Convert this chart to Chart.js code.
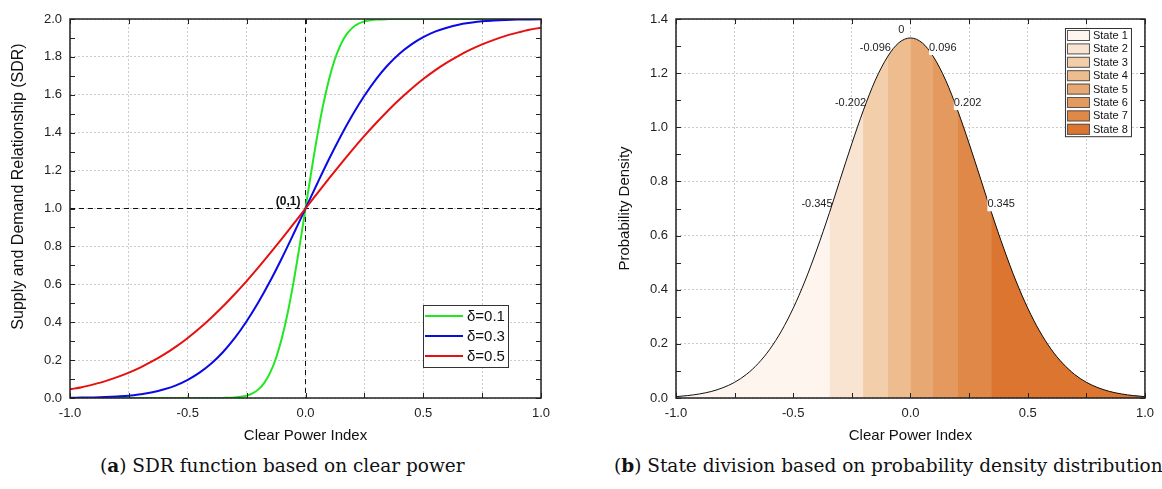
<!DOCTYPE html>
<html lang="en">
<head>
<meta charset="UTF-8">
<title>SDR function and state division</title>
<script src="https://cdn.jsdelivr.net/npm/chart.js"></script>
<style>
    body {
        margin: 0;
        width: 1162px;
        height: 489px;
        overflow: hidden;
        position: relative;
        background: #fff;
        font-family: "Liberation Sans", Arial, sans-serif;
    }
    .panel { position: absolute; top: 0; }
    #left { left: 0; }
    #right { left: 590px; }
    .caption {
        position: absolute;
        top: 454px;
        font-family: "DejaVu Serif", "Liberation Serif", serif;
        font-size: 18.5px;
        line-height: 24px;
        color: #111;
        white-space: nowrap;
    }
</style>
</head>
<body>
<div class="panel" id="left"><canvas id="sdr" width="580" height="450"></canvas></div>
<div class="panel" id="right"><canvas id="pdf" width="572" height="450"></canvas></div>
<div class="caption" style="left:100px">(<b>a</b>) SDR function based on clear power</div>
<div class="caption" style="left:614px">(<b>b</b>) State division based on probability density distribution</div>

<script>
    // ---- (a) SDR curves ----
    const sdrX = [-1, -0.95, -0.9, -0.85, -0.8, -0.75, -0.7, -0.65, -0.6, -0.55, -0.5, -0.45, -0.4, -0.35, -0.3, -0.25, -0.2, -0.15, -0.1, -0.05,
        0, 0.05, 0.1, 0.15, 0.2, 0.25, 0.3, 0.35, 0.4, 0.45, 0.5, 0.55, 0.6, 0.65, 0.7, 0.75, 0.8, 0.85, 0.9, 0.95, 1];
    const sdrRed = [0.046, 0.057, 0.072, 0.089, 0.110, 0.134, 0.162, 0.194, 0.230, 0.271, 0.317, 0.368, 0.424, 0.484, 0.549, 0.617, 0.689, 0.764, 0.841, 0.920,
        1.000, 1.080, 1.159, 1.236, 1.311, 1.383, 1.451, 1.516, 1.576, 1.632, 1.683, 1.729, 1.770, 1.806, 1.838, 1.866, 1.890, 1.911, 1.928, 1.943, 1.954];
    const sdrBlue = [0.001, 0.002, 0.003, 0.005, 0.008, 0.012, 0.020, 0.030, 0.046, 0.067, 0.096, 0.134, 0.182, 0.243, 0.317, 0.405, 0.505, 0.617, 0.739, 0.868,
        1.000, 1.132, 1.261, 1.383, 1.495, 1.595, 1.683, 1.757, 1.818, 1.866, 1.904, 1.933, 1.954, 1.970, 1.980, 1.988, 1.992, 1.995, 1.997, 1.998, 1.999];
    const greenX = [-1, -0.4, -0.35, -0.3, -0.275, -0.25, -0.225, -0.2, -0.175, -0.15, -0.125, -0.1, -0.075, -0.05, -0.025,
        0, 0.025, 0.05, 0.075, 0.1, 0.125, 0.15, 0.175, 0.2, 0.225, 0.25, 0.275, 0.3, 0.35, 0.4, 1];
    const sdrGreen = [0, 0, 0.0005, 0.0027, 0.006, 0.0124, 0.0244, 0.0455, 0.0801, 0.1336, 0.2113, 0.3174, 0.4533, 0.617, 0.8026,
        1, 1.1974, 1.383, 1.5467, 1.6826, 1.7887, 1.8664, 1.9199, 1.9545, 1.9756, 1.9876, 1.994, 1.9973, 1.9995, 2, 2];
    const sdrNames = ['δ=0.1', 'δ=0.3', 'δ=0.5'];
    const sdrColors = ['#22e622', '#0a0ae6', '#e61010'];

    // ---- (b) probability density and states ----
    const densX = [-1, -0.95, -0.9, -0.85, -0.8, -0.75, -0.7, -0.65, -0.6, -0.55, -0.5, -0.45, -0.4, -0.345, -0.3, -0.25, -0.202, -0.15, -0.096, -0.05,
        0, 0.05, 0.096, 0.15, 0.202, 0.25, 0.3, 0.345, 0.4, 0.45, 0.5, 0.55, 0.6, 0.65, 0.7, 0.75, 0.8, 0.85, 0.9, 0.95, 1];
    const densY = [0.005, 0.009, 0.015, 0.024, 0.038, 0.058, 0.087, 0.127, 0.180, 0.248, 0.332, 0.432, 0.547, 0.686, 0.807, 0.940, 1.060, 1.174, 1.263, 1.312,
        1.330, 1.312, 1.263, 1.174, 1.060, 0.940, 0.807, 0.686, 0.547, 0.432, 0.332, 0.248, 0.180, 0.127, 0.087, 0.058, 0.038, 0.024, 0.015, 0.009, 0.005];
    const stateEdges = [-1, -0.345, -0.202, -0.096, 0, 0.096, 0.202, 0.345, 1];
    const edgeLabels = ['-0.345', '-0.202', '-0.096', '0', '0.096', '0.202', '0.345'];
    const stateNames = ['State 1', 'State 2', 'State 3', 'State 4', 'State 5', 'State 6', 'State 7', 'State 8'];
    const stateColors = ['#fdf5ee', '#f8e4d0', '#f2ceab', '#edbd8f', '#e7a873', '#e49a5f', '#df8848', '#dc7530'];

    const FONT = '"Liberation Sans", Arial, sans-serif';
    Chart.defaults.font.family = FONT;
    Chart.defaults.color = '#222';

    function pts(xs, ys) {
        return xs.map((x, i) => ({ x: x, y: ys[i] }));
    }

    // frame box with inward ticks on all four sides
    const framePlugin = {
        id: 'frame',
        afterDatasetsDraw(chart) {
            const { ctx, chartArea: a, scales: { x, y } } = chart;
            const tl = 5;
            ctx.save();
            ctx.strokeStyle = '#222';
            ctx.lineWidth = 1;
            ctx.beginPath();
            x.ticks.forEach(t => {
                const px = Math.round(x.getPixelForValue(t.value)) + 0.5;
                ctx.moveTo(px, a.bottom); ctx.lineTo(px, a.bottom - tl);
                ctx.moveTo(px, a.top); ctx.lineTo(px, a.top + tl);
            });
            const yv = [];
            y.ticks.forEach((t, i) => {
                yv.push(t.value);
                if (i < y.ticks.length - 1) yv.push((t.value + y.ticks[i + 1].value) / 2);
            });
            yv.forEach(v => {
                const py = Math.round(y.getPixelForValue(v)) + 0.5;
                ctx.moveTo(a.left, py); ctx.lineTo(a.left + tl, py);
                ctx.moveTo(a.right, py); ctx.lineTo(a.right - tl, py);
            });
            ctx.stroke();
            ctx.lineWidth = 1.5;
            ctx.strokeRect(a.left, a.top, a.right - a.left, a.bottom - a.top);
            ctx.restore();
        }
    };

    // dashed guides through (0,1), plus the left y title (sits a bit above centre)
    const guidePlugin = {
        id: 'guides',
        beforeDatasetsDraw(chart) {
            const { ctx, chartArea: a, scales: { x, y } } = chart;
            const px = x.getPixelForValue(0), py = y.getPixelForValue(1);
            ctx.save();
            ctx.strokeStyle = '#111';
            ctx.lineWidth = 1;
            ctx.setLineDash([5, 4]);
            ctx.beginPath();
            ctx.moveTo(px, a.top); ctx.lineTo(px, a.bottom);
            ctx.moveTo(a.left, py); ctx.lineTo(a.right, py);
            ctx.stroke();
            ctx.restore();
        },
        afterDatasetsDraw(chart) {
            const { ctx, chartArea: a, scales: { x, y } } = chart;
            ctx.save();
            ctx.font = 'bold 12px ' + FONT;
            ctx.fillStyle = '#111';
            ctx.textAlign = 'right';
            ctx.textBaseline = 'middle';
            ctx.fillText('(0,1)', x.getPixelForValue(0) - 5, y.getPixelForValue(1) - 7);

            ctx.translate(19, (a.top + a.bottom) / 2 - 22);
            ctx.rotate(-Math.PI / 2);
            ctx.font = '16px ' + FONT;
            ctx.textAlign = 'center';
            ctx.fillText('Supply and Demand Relationship (SDR)', 0, 0);
            ctx.restore();
        }
    };

    const sdrLegend = {
        id: 'sdrLegend',
        afterDraw(chart) {
            const { ctx, chartArea: a } = chart;
            const bx = a.right - 118, by = a.bottom - 93, bw = 85, bh = 62;
            ctx.save();
            ctx.fillStyle = '#fff';
            ctx.fillRect(bx, by, bw, bh);
            ctx.strokeStyle = '#333';
            ctx.lineWidth = 1;
            ctx.strokeRect(bx + 0.5, by + 0.5, bw, bh);
            ctx.font = '15px ' + FONT;
            ctx.textBaseline = 'middle';
            sdrNames.forEach((n, i) => {
                const cy = by + 11 + i * 20;
                ctx.strokeStyle = sdrColors[i];
                ctx.lineWidth = 2;
                ctx.beginPath();
                ctx.moveTo(bx + 2, cy); ctx.lineTo(bx + 40, cy);
                ctx.stroke();
                ctx.fillStyle = '#111';
                ctx.fillText(n, bx + 44, cy + 1);
            });
            ctx.restore();
        }
    };

    const edgeLabelPlugin = {
        id: 'edgeLabels',
        afterDatasetsDraw(chart) {
            const { ctx, scales: { x, y } } = chart;
            ctx.save();
            ctx.font = '11px ' + FONT;
            ctx.textBaseline = 'middle';
            stateEdges.slice(1, -1).forEach((e, i) => {
                const px = x.getPixelForValue(e);
                const py = y.getPixelForValue(densY[densX.indexOf(e)]) - 8;
                const label = edgeLabels[i];
                const w = ctx.measureText(label).width;
                if (e > 0) {
                    ctx.fillStyle = '#fff';
                    ctx.fillRect(px - 4, py - 7, w + 1, 14);
                    ctx.fillStyle = '#222';
                    ctx.textAlign = 'left';
                    ctx.fillText(label, px - 4, py);
                } else {
                    ctx.fillStyle = '#222';
                    ctx.textAlign = 'right';
                    ctx.fillText(label, e === 0 ? px - 6 : px + 3, py);
                }
            });
            ctx.restore();
        }
    };

    const stateLegend = {
        id: 'stateLegend',
        afterDraw(chart) {
            const { ctx, chartArea: a } = chart;
            const bx = a.right - 80, by = a.top + 9, bw = 66, rh = 13.4;
            const bh = stateNames.length * rh + 1;
            ctx.save();
            ctx.fillStyle = '#fff';
            ctx.fillRect(bx, by, bw, bh);
            ctx.strokeStyle = '#333';
            ctx.lineWidth = 1;
            ctx.strokeRect(bx + 0.5, by + 0.5, bw, bh);
            ctx.font = '11px ' + FONT;
            ctx.textBaseline = 'middle';
            stateNames.forEach((n, i) => {
                const top = by + 2 + i * rh;
                ctx.fillStyle = stateColors[i];
                ctx.fillRect(bx + 2, top, 23, 11);
                ctx.strokeStyle = '#555';
                ctx.strokeRect(bx + 2.5, top + 0.5, 22, 10);
                ctx.fillStyle = '#111';
                ctx.fillText(n, bx + 28, top + 6);
            });
            ctx.restore();
        }
    };

    function axes(yMax, yWidth, yTitle, yTitlePad) {
        const tickFont = { size: 13 };
        const titleFont = { size: 15 };
        return {
            x: {
                type: 'linear', min: -1, max: 1,
                ticks: {
                    stepSize: 0.25, autoSkip: false, maxRotation: 0, padding: 8, font: tickFont, color: '#222',
                    callback: v => Math.abs(v * 2 - Math.round(v * 2)) < 1e-6 ? v.toFixed(1) : ''
                },
                grid: { color: '#cccccc', lineWidth: 1, drawTicks: false },
                border: { display: false, dash: [2, 2] },
                title: { display: true, text: 'Clear Power Index', font: titleFont, color: '#111', padding: { top: 0, bottom: 5 } },
                afterFit: s => { s.height = 52; }
            },
            y: {
                type: 'linear', min: 0, max: yMax,
                ticks: { stepSize: 0.2, padding: 8, font: tickFont, color: '#222', callback: v => v.toFixed(1) },
                grid: { color: '#cccccc', lineWidth: 1, drawTicks: false },
                border: { display: false, dash: [2, 2] },
                title: { display: !!yTitle, text: yTitle, font: titleFont, color: '#111', padding: { top: yTitlePad, bottom: 0 } },
                afterFit: s => { s.width = yWidth; }
            }
        };
    }

    const common = {
        responsive: false,
        animation: false,
        devicePixelRatio: 1,
        plugins: { legend: { display: false }, tooltip: { enabled: false } },
        elements: { point: { radius: 0 } }
    };

    new Chart(document.getElementById('sdr'), {
        type: 'line',
        data: {
            datasets: [
                { label: sdrNames[0], data: pts(greenX, sdrGreen), borderColor: sdrColors[0], borderWidth: 2, order: 2 },
                { label: sdrNames[1], data: pts(sdrX, sdrBlue), borderColor: sdrColors[1], borderWidth: 2, order: 1 },
                { label: sdrNames[2], data: pts(sdrX, sdrRed), borderColor: sdrColors[2], borderWidth: 2, order: 0 }
            ].map(d => Object.assign(d, { fill: false, cubicInterpolationMode: 'monotone' }))
        },
        options: Object.assign({}, common, {
            layout: { padding: { top: 19, right: 39, left: 0, bottom: 0 } },
            scales: axes(2, 70, '', 0)
        }),
        plugins: [guidePlugin, framePlugin, sdrLegend]
    });

    // each state fills from its lower edge to the right end; later states are drawn on top,
    // so neighbouring bands overlap instead of leaving seams
    const all = pts(densX, densY);
    const bands = stateColors.map((c, i) => ({
        label: stateNames[i],
        data: all.filter(p => p.x >= stateEdges[i] - 1e-9),
        borderWidth: 0,
        backgroundColor: c,
        fill: 'origin',
        cubicInterpolationMode: 'monotone',
        order: 20 - i
    }));

    new Chart(document.getElementById('pdf'), {
        type: 'line',
        data: {
            datasets: [{
                label: 'density', data: all, borderColor: '#111', borderWidth: 1, fill: false,
                cubicInterpolationMode: 'monotone', order: 0
            }].concat(bands)
        },
        options: Object.assign({}, common, {
            layout: { padding: { top: 19, right: 17, left: 0, bottom: 0 } },
            scales: axes(1.4, 86, 'Probability Density', 26)
        }),
        plugins: [framePlugin, edgeLabelPlugin, stateLegend]
    });
</script>
</body>
</html>
